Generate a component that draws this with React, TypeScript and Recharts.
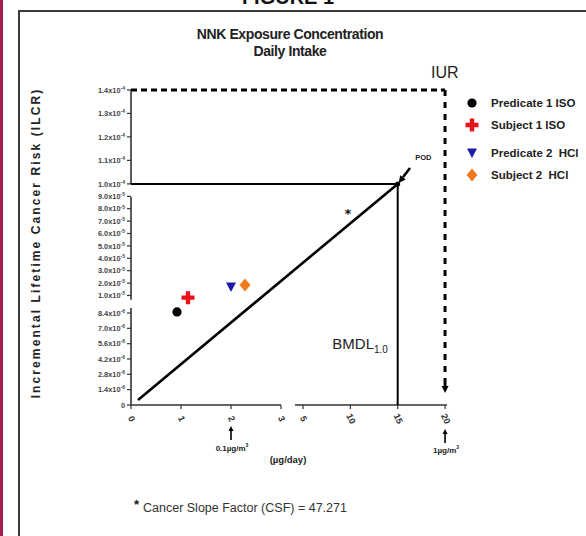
import React from 'react';
import { ComposedChart, Scatter, XAxis, YAxis, ReferenceLine, ReferenceDot, Legend } from 'recharts';

const FONT = "'Liberation Sans Narrow','Liberation Sans',Arial,sans-serif";

// ---- data (x = daily intake µg/day, y = ILCR) ----
const seriesNames = ['Predicate 1 ISO', 'Subject 1 ISO', 'Predicate 2  HCl', 'Subject 2  HCl'];
const seriesDose = [0.92, 1.14, 2.0, 2.28];
const seriesRisk = [8.5e-6, 9.8e-6, 1.69e-5, 1.85e-5];
const seriesColors = ['#000000', '#e8141c', '#1c1ca8', '#f07a1e'];

const csfDose = [9.75];
const csfRisk = [7.65e-5];

const doseLineDose = [0.14, 15];
const doseLineRisk = [4.6e-7, 1.0e-4];

const podDose = 15;
const podRisk = 1.0e-4;
const iurDose = 20;
const iurRisk = 1.4e-4;

const xTickValues = [0, 1, 2, 3, 5, 10, 15, 20];
const xTickLabels = ['0', '1', '2', '3', '5', '10', '15', '20'];

const yTickValues = [
  0, 1.4e-6, 2.8e-6, 4.2e-6, 5.6e-6, 7.0e-6, 8.4e-6,
  1e-5, 2e-5, 3e-5, 4e-5, 5e-5, 6e-5, 7e-5, 8e-5, 9e-5,
  1.0e-4, 1.1e-4, 1.2e-4, 1.3e-4, 1.4e-4,
];
const yTickLabels = [
  '0', '1.4x10^-6', '2.8x10^-6', '4.2x10^-6', '5.6x10^-6', '7.0x10^-6', '8.4x10^-6',
  '1.0x10^-5', '2.0x10^-5', '3.0x10^-5', '4.0x10^-5', '5.0x10^-5', '6.0x10^-5', '7.0x10^-5', '8.0x10^-5', '9.0x10^-5',
  '1.0x10^-4', '1.1x10^-4', '1.2x10^-4', '1.3x10^-4', '1.4x10^-4',
];

// broken-axis segments (in data units)
const xSegments = [[0, 3], [4.16, 20.2]];
const ySegments = [[0, 8.86e-6], [9.6e-6, 8.94e-5], [1.0e-4, 1.4e-4]];

// ---- broken (piecewise-linear) scales ----
const fx = (v: number) => (v <= 3.6 ? v * 50 : 172 + (v - 5) * 9.47);
const fy = (v: number) => {
  if (v <= 1e-5) return v * 1.0952e7;
  if (v <= 1e-4) return 109.5 + (v - 1e-5) * 1.24e6;
  return 221.1 + (v - 1e-4) * 2.35e6;
};

const W = 586;
const H = 536;

const markerFor = (name: string, cx: number, cy: number, color: string) => {
  if (name === seriesNames[0]) return <circle cx={cx} cy={cy} r={4.6} fill={color} />;
  if (name === seriesNames[1])
    return (
      <path
        d={`M${cx - 2.2},${cy - 6.5}h4.4v4.3h4.3v4.4h-4.3v4.3h-4.4v-4.3h-4.3v-4.4h4.3z`}
        fill={color}
      />
    );
  if (name === seriesNames[2])
    return <polygon points={`${cx - 5},${cy - 4.5} ${cx + 5},${cy - 4.5} ${cx},${cy + 5}`} fill={color} />;
  return <polygon points={`${cx},${cy - 6.5} ${cx + 5.5},${cy} ${cx},${cy + 6.5} ${cx - 5.5},${cy}`} fill={color} />;
};

const arrowShape = (width: number, head: number) => (p: any) => {
  const { x1, y1, x2, y2 } = p;
  const a = Math.atan2(y2 - y1, x2 - x1);
  const hx = x2 - Math.cos(a) * head;
  const hy = y2 - Math.sin(a) * head;
  const px = -Math.sin(a) * head * 0.5;
  const py = Math.cos(a) * head * 0.5;
  return (
    <g>
      <line x1={x1} y1={y1} x2={hx} y2={hy} stroke="#000" strokeWidth={width} />
      <polygon points={`${x2},${y2} ${hx + px},${hy + py} ${hx - px},${hy - py}`} fill="#000" />
    </g>
  );
};

const XTick = (props: any) => {
  const { x, y, payload } = props;
  const i = xTickValues.findIndex((v) => Math.abs(fx(v) - payload.value) < 0.01);
  const label = i >= 0 ? xTickLabels[i] : '';
  return (
    <g>
      <line x1={x} y1={y} x2={x} y2={y + 4} stroke="#333" strokeWidth={1.2} />
      <text
        x={x}
        y={y + 14}
        transform={`rotate(65 ${x} ${y + 14})`}
        textAnchor="middle"
        dominantBaseline="middle"
        fontSize={9}
        fontWeight="bold"
        fontFamily={FONT}
        fill="#333"
      >
        {label}
      </text>
    </g>
  );
};

const YTick = (props: any) => {
  const { x, y, payload } = props;
  const i = yTickValues.findIndex((v) => Math.abs(fy(v) - payload.value) < 0.01);
  const label = i >= 0 ? yTickLabels[i] : '';
  const [base, exp] = label.split('^');
  return (
    <g>
      <line x1={x - 4} y1={y} x2={x} y2={y} stroke="#333" strokeWidth={1.2} />
      <text
        x={x - 6}
        y={y + 2.6}
        textAnchor="end"
        fontSize={7.4}
        fontWeight="bold"
        fontFamily={FONT}
        fill="#444"
      >
        {base}
        {exp ? (
          <tspan dy={-2.8} fontSize={5}>
            {exp}
          </tspan>
        ) : null}
      </text>
    </g>
  );
};

const LegendContent = (props: any) => {
  const payload = (props.payload || [])
    .filter((e: any) => seriesNames.includes(e.value))
    .sort((a: any, b: any) => seriesNames.indexOf(a.value) - seriesNames.indexOf(b.value));
  return (
    <div style={{ fontFamily: FONT }}>
      {payload.map((e: any, i: number) => {
        const idx = seriesNames.indexOf(e.value);
        return (
          <div
            key={e.value}
            style={{ display: 'flex', alignItems: 'center', height: 22, marginTop: i === 2 ? 6 : 0 }}
          >
            <svg width={20} height={16} style={{ flex: 'none' }}>
              {markerFor(e.value, 10, 8, seriesColors[idx])}
            </svg>
            <span
              style={{ marginLeft: 9, fontSize: 11.5, fontWeight: 'bold', color: '#222', whiteSpace: 'pre' }}
            >
              {e.value}
            </span>
          </div>
        );
      })}
    </div>
  );
};

export default function App() {
  const seriesData = seriesNames.map((_, i) => [{ x: fx(seriesDose[i]), y: fy(seriesRisk[i]) }]);
  const csfData = csfDose.map((d, i) => ({ x: fx(d), y: fy(csfRisk[i]) }));
  const doseLine = doseLineDose.map((d, i) => ({ x: fx(d), y: fy(doseLineRisk[i]) }));
  const px = fx(podDose);
  const py = fy(podRisk);
  const ix = fx(iurDose);
  const iy = fy(iurRisk);

  return (
    <div
      style={{
        position: 'absolute',
        left: 0,
        top: 0,
        width: W,
        height: H,
        overflow: 'hidden',
        background: '#fff',
        fontFamily: FONT,
      }}
    >
      {/* frame */}
      <div style={{ position: 'absolute', left: 0, top: 0, width: 3, height: H, background: '#a01e48' }} />
      <div
        style={{
          position: 'absolute',
          left: 18,
          top: 10,
          width: W,
          height: H,
          borderLeft: '2px solid #3a3a3a',
          borderTop: '2px solid #3a3a3a',
        }}
      />
      <div
        style={{
          position: 'absolute',
          left: 0,
          width: W - 10,
          top: -13,
          textAlign: 'center',
          fontSize: 20,
          fontWeight: 'bold',
          fontFamily: "'Liberation Sans',Arial,sans-serif",
          color: '#111',
          lineHeight: '20px',
        }}
      >
        FIGURE 1
      </div>

      <div style={{ position: 'absolute', left: 0, top: 0 }}>
        <ComposedChart width={W} height={H} margin={{ top: 88, right: 138, bottom: 0, left: 0 }}>
          <XAxis
            type="number"
            dataKey="x"
            domain={[0, 317]}
            ticks={xTickValues.map(fx)}
            tick={<XTick />}
            axisLine={false}
            tickLine={false}
            tickSize={0}
            tickMargin={0}
            height={131}
            allowDataOverflow
            interval={0}
          />
          <YAxis
            type="number"
            dataKey="y"
            domain={[0, 317]}
            ticks={yTickValues.map(fy)}
            tick={<YTick />}
            axisLine={false}
            tickLine={false}
            tickSize={0}
            tickMargin={0}
            width={131}
            allowDataOverflow
            interval={0}
          />

          {/* broken axis lines */}
          {xSegments.map((s, i) => (
            <ReferenceLine
              key={'xs' + i}
              segment={[{ x: fx(s[0]), y: 0 }, { x: fx(s[1]), y: 0 }]}
              stroke="#333"
              strokeWidth={1.6}
              ifOverflow="visible"
            />
          ))}
          {ySegments.map((s, i) => (
            <ReferenceLine
              key={'ys' + i}
              segment={[{ x: 0, y: fy(s[0]) }, { x: 0, y: fy(s[1]) }]}
              stroke="#333"
              strokeWidth={1.6}
              ifOverflow="visible"
            />
          ))}

          {/* IUR dashed line */}
          <ReferenceLine
            segment={[{ x: 0, y: iy }, { x: ix, y: iy }]}
            stroke="#000"
            strokeWidth={3}
            strokeDasharray="6 4"
            ifOverflow="visible"
          />
          <ReferenceLine
            segment={[{ x: ix, y: iy }, { x: ix, y: 22 }]}
            stroke="#000"
            strokeWidth={3}
            strokeDasharray="6 6"
            ifOverflow="visible"
          />
          <ReferenceLine
            segment={[{ x: ix, y: 22 }, { x: ix, y: 12 }]}
            shape={arrowShape(3, 7)}
            ifOverflow="visible"
          />

          {/* POD lines */}
          <ReferenceLine segment={[{ x: 0, y: py }, { x: px, y: py }]} stroke="#000" strokeWidth={2} />
          <ReferenceLine segment={[{ x: px, y: 0 }, { x: px, y: py }]} stroke="#000" strokeWidth={2} />

          {/* dose-response line */}
          <Scatter
            name="dose line"
            data={doseLine}
            line={{ stroke: '#000', strokeWidth: 2.6 }}
            shape={() => <g />}
            legendType="none"
            isAnimationActive={false}
          />

          {/* POD arrow */}
          <ReferenceLine
            segment={[{ x: fx(16.3), y: py + 16 }, { x: px + 1, y: py + 1 }]}
            shape={arrowShape(2.5, 7)}
            ifOverflow="visible"
          />
          <ReferenceDot
            x={px}
            y={py}
            ifOverflow="visible"
            shape={(p: any) => <circle cx={p.cx} cy={p.cy} r={2.5} fill="#000" />}
          />
          <ReferenceDot
            x={fx(17.7)}
            y={py + 27}
            ifOverflow="visible"
            shape={(p: any) => (
              <text x={p.cx} y={p.cy + 3} textAnchor="middle" fontSize={7.5} fontWeight="bold" fontFamily={FONT} fill="#222">
                POD
              </text>
            )}
          />
          <ReferenceDot
            x={fx(8.1)}
            y={fy(5.1e-6)}
            ifOverflow="visible"
            shape={(p: any) => (
              <text x={p.cx} y={p.cy} fontSize={15} fontFamily={FONT} fill="#222">
                BMDL
                <tspan dy={4} fontSize={10}>
                  1.0
                </tspan>
              </text>
            )}
          />

          {/* CSF star */}
          <Scatter
            name="CSF"
            data={csfData}
            legendType="none"
            isAnimationActive={false}
            shape={(p: any) => (
              <text x={p.cx} y={p.cy + 5} textAnchor="middle" fontSize={13} fontWeight="bold" fill="#111" fontFamily="'DejaVu Sans',sans-serif">
                *
              </text>
            )}
          />

          {/* arrows under the x axis */}
          <ReferenceLine
            segment={[{ x: fx(2), y: -35 }, { x: fx(2), y: -21 }]}
            shape={arrowShape(1.6, 5)}
            ifOverflow="visible"
          />
          <ReferenceLine
            segment={[{ x: fx(20), y: -38 }, { x: fx(20), y: -24 }]}
            shape={arrowShape(1.6, 5)}
            ifOverflow="visible"
          />

          {seriesNames.map((name, i) => (
            <Scatter
              key={name}
              name={name}
              data={seriesData[i]}
              fill={seriesColors[i]}
              isAnimationActive={false}
              shape={(p: any) => markerFor(name, p.cx, p.cy, seriesColors[i])}
            />
          ))}

          <Legend
            layout="vertical"
            align="center"
            verticalAlign="middle"
            content={<LegendContent />}
            wrapperStyle={{ position: 'absolute', left: 462, top: 92, width: 140 }}
          />
        </ComposedChart>
      </div>

      {/* titles and texts */}
      <div
        style={{
          position: 'absolute',
          left: 180,
          width: 220,
          top: 26,
          textAlign: 'center',
          fontSize: 14,
          fontWeight: 'bold',
          lineHeight: '17px',
          color: '#222',
          fontFamily: "'Liberation Sans',Arial,sans-serif",
          letterSpacing: -0.4,
        }}
      >
        NNK Exposure Concentration
        <br />
        Daily Intake
      </div>
      <div style={{ position: 'absolute', left: 431, top: 64, fontSize: 16, color: '#222' }}>IUR</div>
      <div
        style={{
          position: 'absolute',
          left: 36,
          top: 243,
          transform: 'translate(-50%,-50%) rotate(-90deg)',
          whiteSpace: 'nowrap',
          fontSize: 12,
          fontWeight: 'bold',
          letterSpacing: 2.1,
          color: '#222',
          fontFamily: "'Liberation Sans',Arial,sans-serif",
        }}
      >
        Incremental Lifetime Cancer Risk (ILCR)
      </div>
      <div
        style={{
          position: 'absolute',
          left: 202,
          width: 60,
          top: 442,
          textAlign: 'center',
          fontSize: 8,
          fontWeight: 'bold',
          color: '#222',
        }}
      >
        0.1µg/m<sup style={{ fontSize: 5 }}>3</sup>
      </div>
      <div
        style={{
          position: 'absolute',
          left: 258,
          width: 60,
          top: 454,
          textAlign: 'center',
          fontSize: 9.5,
          fontWeight: 'bold',
          color: '#222',
        }}
      >
        (µg/day)
      </div>
      <div
        style={{
          position: 'absolute',
          left: 416,
          width: 60,
          top: 444,
          textAlign: 'center',
          fontSize: 8,
          fontWeight: 'bold',
          color: '#222',
        }}
      >
        1µg/m<sup style={{ fontSize: 5 }}>3</sup>
      </div>
      <div style={{ position: 'absolute', left: 134, top: 497, fontSize: 13, fontWeight: 'bold', color: '#111' }}>*</div>
      <div style={{ position: 'absolute', left: 143, top: 501, fontSize: 12.5, color: '#333', whiteSpace: 'nowrap' }}>
        Cancer Slope Factor (CSF) = 47.271
      </div>
    </div>
  );
}
